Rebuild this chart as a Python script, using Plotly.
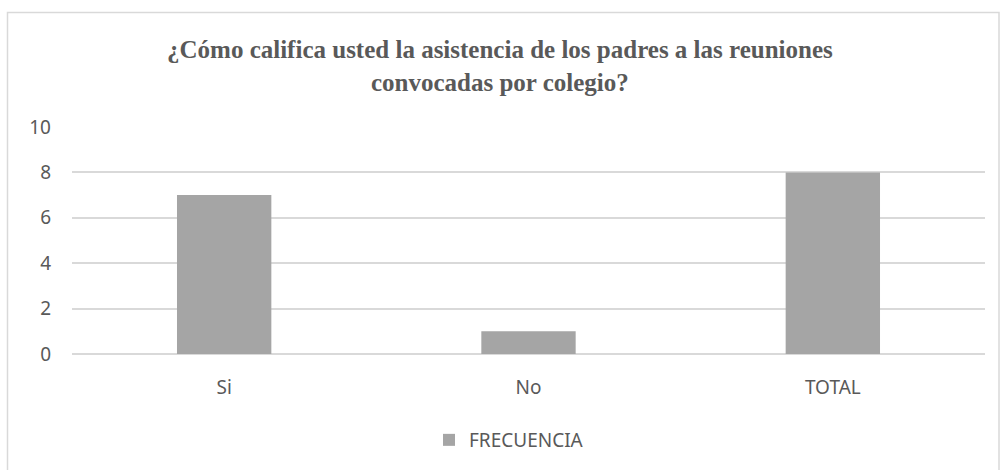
import plotly.graph_objects as go

# Survey answers and their counts
categories = ["Si", "No", "TOTAL"]
frecuencia = [7, 1, 8]
series_name = "FRECUENCIA"
y_ticks = [0, 2, 4, 6, 8, 10]
title_text = "¿Cómo califica usted la asistencia de los padres a las reuniones<br>convocadas por colegio?"

W, H = 1000, 470
ML, MR, MT, MB = 72, 15, 127, 115
pw = W - ML - MR
ph = H - MT - MB


def px_x(v):
    return (v - ML) / pw


def px_y(v):
    return (H - MB - v) / ph


label_font = dict(family="Noto Sans", size=19, color="#595959")

fig = go.Figure(
    go.Bar(
        x=categories,
        y=frecuencia,
        name=series_name,
        marker=dict(color="#A5A5A5", line=dict(width=0)),
        showlegend=True,
    )
)

fig.update_layout(
    width=W,
    height=H,
    margin=dict(l=ML, r=MR, t=MT, b=MB),
    paper_bgcolor="white",
    plot_bgcolor="white",
    bargap=0.69,
    xaxis=dict(
        showgrid=False,
        showline=False,
        ticks="",
        tickfont=label_font,
        ticklabelstandoff=20,
    ),
    yaxis=dict(
        range=[0, 10],
        tickvals=y_ticks,
        showgrid=True,
        gridcolor="#D9D9D9",
        gridwidth=1.5,
        zeroline=True,
        zerolinecolor="#D9D9D9",
        zerolinewidth=1.5,
        showline=False,
        ticks="",
        tickfont=label_font,
        ticklabelstandoff=20,
    ),
    legend=dict(
        orientation="h",
        x=px_x(429),
        xanchor="left",
        y=px_y(440),
        yanchor="middle",
        font=label_font,
        bgcolor="rgba(0,0,0,0)",
    ),
    annotations=[
        dict(
            text=title_text,
            xref="paper",
            yref="paper",
            x=px_x(500),
            y=px_y(65.5),
            xanchor="center",
            yanchor="middle",
            showarrow=False,
            align="center",
            font=dict(family="Liberation Serif", size=25, color="#595959", weight="bold"),
        )
    ],
    shapes=[
        dict(
            type="rect",
            xref="paper",
            yref="paper",
            x0=px_x(7.5),
            x1=px_x(999),
            y0=px_y(480),
            y1=px_y(12),
            line=dict(color="#D9D9D9", width=1.5),
            fillcolor="rgba(0,0,0,0)",
            layer="below",
        )
    ],
)

fig.write_html("out.html")
